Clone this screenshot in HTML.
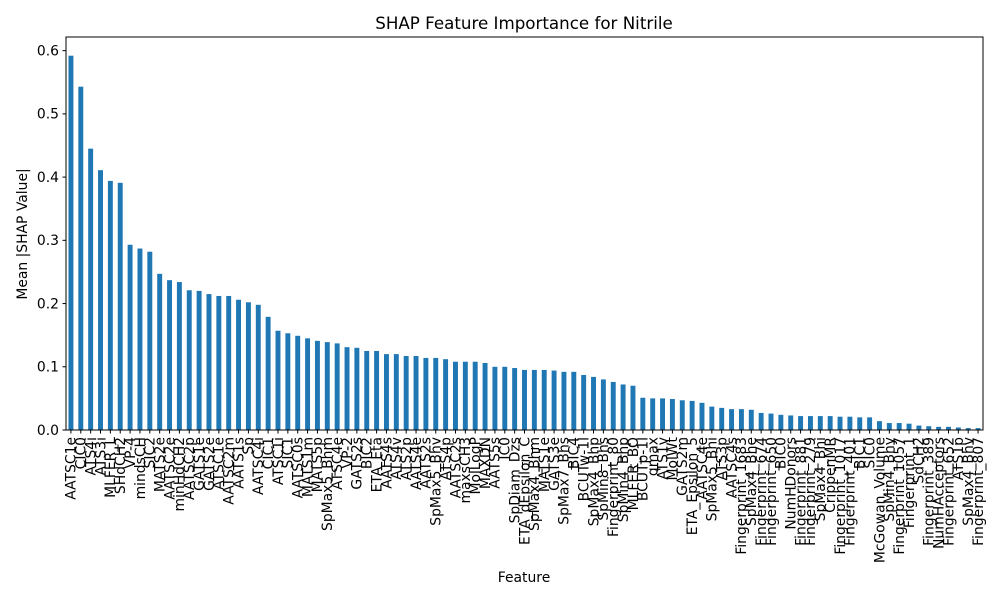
<!DOCTYPE html>
<html><head><meta charset="utf-8"><style>
body{margin:0;background:#fff;}
svg{display:block;font-family:"DejaVu Sans","Liberation Sans",sans-serif;}
</style></head><body>
<svg id="chart" width="1000" height="600" xmlns="http://www.w3.org/2000/svg">
<text x="524" y="29" text-anchor="middle" font-size="16.7">SHAP Feature Importance for Nitrile</text>
<text x="524" y="582" text-anchor="middle" font-size="13.9">Feature</text>
<text transform="translate(27,234) rotate(-90)" text-anchor="middle" font-size="13.9">Mean |SHAP Value|</text>
<g id="bars"></g>
<g id="yticks"></g>
<g id="xticks"></g>
<rect x="66" y="37" width="917" height="393" fill="none" stroke="#000" stroke-width="1"/>
</svg>
<script>
const categories = ["AATSC1e","CIC0","ATS4i","ATS3i","MLFER_L","SHdCH2","VP-4","mindsCH","SIC2","MATS2e","AATSC2e","minHdCH2","AATSC2p","GATS1e","GATS2e","ATSC1e","AATSC2m","AATS1s","Sp","AATSC4i","CIC1","ATSC1i","SIC1","AATSC0s","MATS1m","MATS5p","SpMax5_Bhm","ATSC4e","VP-2","GATS2s","BIC2","ETA_Eta","AATS4s","ATS4v","ATS2p","AATS4e","AATS2s","SpMax5_Bhv","ATS4p","AATSC2s","maxsCH3","MolLogP","MAXDN","AATS5s","IC0","SpDiam_Dzs","ETA_dEpsilon_C","SpMax4_Bhm","MATS1e","GATS3e","SpMax7_Bhs","BIC4","BCUTw-1l","SpMax4_Bhp","SpMin8_Bhs","Fingerprint_80","SpMin4_Bhp","MLFER_BO","BCUTp-1l","qmax","ATS1v","MolWt","GATS2m","ETA_Epsilon_5","AATSC4e","SpMax5_Bhi","ATS3p","AATSC4s","Fingerprint_1683","SpMax4_Bhe","Fingerprint_674","Fingerprint_650","BIC0","NumHDonors","Fingerprint_881","Fingerprint_279","SpMax4_Bhi","CrippenMR","Fingerprint_1017","Fingerprint_401","BIC1","SIC0","McGowan_Volume","SpMin4_Bhy","Fingerprint_1057","Fingerprint_1","SdCH2","Fingerprint_389","NumHAcceptors","Fingerprint_652","ATS1p","SpMax4_Bhv","Fingerprint_807"];
const values = [0.592,0.543,0.445,0.411,0.394,0.391,0.293,0.287,0.282,0.247,0.237,0.234,0.221,0.220,0.215,0.212,0.212,0.206,0.202,0.198,0.179,0.157,0.153,0.149,0.145,0.141,0.139,0.137,0.131,0.130,0.125,0.125,0.120,0.120,0.117,0.117,0.114,0.114,0.112,0.108,0.108,0.108,0.106,0.100,0.100,0.098,0.095,0.095,0.095,0.094,0.092,0.092,0.087,0.084,0.080,0.076,0.072,0.070,0.051,0.050,0.050,0.049,0.047,0.046,0.043,0.037,0.035,0.033,0.033,0.032,0.027,0.026,0.024,0.023,0.022,0.022,0.022,0.022,0.021,0.021,0.020,0.020,0.014,0.011,0.011,0.010,0.007,0.006,0.005,0.005,0.004,0.003,0.003];
const yTicks = [0.0,0.1,0.2,0.3,0.4,0.5,0.6];
const yTickLabels = ["0.0","0.1","0.2","0.3","0.4","0.5","0.6"];

const NS="http://www.w3.org/2000/svg";
const L=66,R=983,T=37,B=430,yMax=0.6216;
const band=(R-L)/categories.length;
function xPos(i){return L+band*(i+0.5);}
function yPos(v){return B-(v/yMax)*(B-T);}
function mk(tag,attrs,parent){const e=document.createElementNS(NS,tag);for(const k in attrs)e.setAttribute(k,attrs[k]);parent.appendChild(e);return e;}

const gb=document.getElementById('bars');
values.forEach((v,i)=>{
  const w=band*0.5;
  const r=mk('rect',{x:xPos(i)-w/2,y:yPos(v),width:w,height:B-yPos(v),fill:'#1f77b4'},gb);
  
  
});
const gy=document.getElementById('yticks');
yTicks.forEach((t,i)=>{
  const y=yPos(t);
  const ln=mk('line',{x1:L-3.5,x2:L,y1:y,y2:y,stroke:'#000','stroke-width':1},gy);
  
  
  const tx=mk('text',{x:L-7,y:y+4.8,'text-anchor':'end','font-size':'13.9'},gy);
  tx.textContent=yTickLabels[i];
  
  
});
const gx=document.getElementById('xticks');
categories.forEach((c,i)=>{
  const x=xPos(i);
  const ln=mk('line',{x1:x,x2:x,y1:B,y2:B+3.5,stroke:'#000','stroke-width':1},gx);
  
  
  const tx=mk('text',{transform:`translate(${x+4.8},${B+7}) rotate(-90)`,'text-anchor':'end','font-size':'13.9'},gx);
  tx.textContent=c;
  
  
});
</script>
</body></html>
